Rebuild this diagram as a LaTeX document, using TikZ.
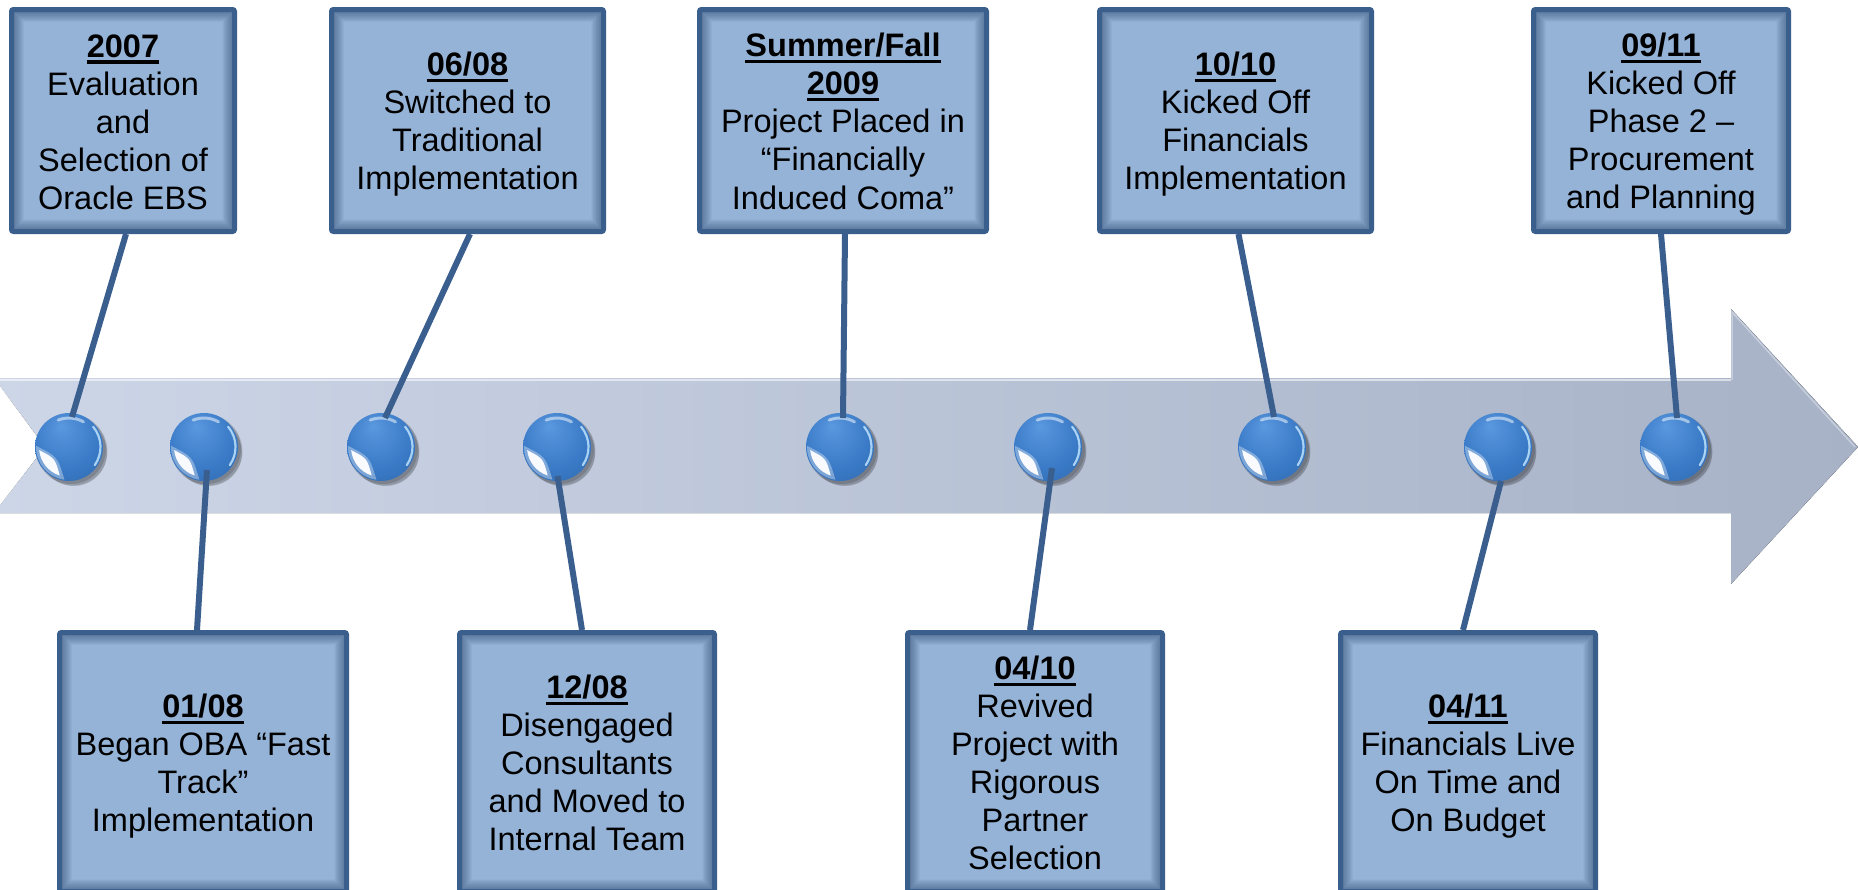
\documentclass[tikz,border=0pt]{standalone}
\usepackage{fontspec}
\setmainfont{Liberation Sans}
\usetikzlibrary{calc}

\definecolor{boxfill}{HTML}{95B3D7}
\definecolor{boxline}{HTML}{3A5F8C}
\definecolor{boxglow}{HTML}{2D4A70}
\definecolor{linkc}{HTML}{3A5F8E}
\definecolor{bandl}{HTML}{CDD6E7}
\definecolor{bandr}{HTML}{A7B2C7}
\definecolor{ballhi}{HTML}{5A98DF}
\definecolor{ballmid}{HTML}{3A7AC6}
\definecolor{balldk}{HTML}{2D66AC}
\definecolor{ballrim}{HTML}{B5DCFA}

% line struts so every line box is 38pt tall (31.5 above, 6.5 below)
\newcommand\tlstrut{\rule[-6.5pt]{0pt}{38pt}}
% bold, underlined date heading of each milestone
\newsavebox\tldatebox
\newcommand\tldate[1]{\sbox\tldatebox{\bfseries #1}\leavevmode\tlstrut\rlap{\rule[-6.5pt]{\wd\tldatebox}{3.2pt}}\usebox\tldatebox}

% glossy milestone sphere
\pgfdeclareradialshading{tlball}{\pgfpoint{-6bp}{16bp}}{%
  color(0bp)=(ballhi); color(24bp)=(ballmid); color(44bp)=(balldk); color(50bp)=(balldk)}

\tikzset{
  tlbox/.style={draw=boxline, line width=5pt, fill=boxfill, rounded corners=2pt,
    inner sep=0pt, align=center, text=black,
    font=\fontsize{32.5}{38}\selectfont,
    path picture={
      \foreach \w in {3,6,...,24}{
        \draw[line width=\w pt, draw=boxglow, opacity=0.095]
          (path picture bounding box.south west) rectangle (path picture bounding box.north east);
      }}},
  topbox/.style={tlbox, minimum height=222pt},
  botbox/.style={tlbox, minimum height=259pt},
  ballshadow/.style={fill=black, opacity=0.14},
  ball/.style={circle, minimum size=68pt, inner sep=0pt, shading=tlball,
    path picture={
      \fill[white, opacity=0.35]
        ($(path picture bounding box.center)+(178:33pt)$)
        arc[start angle=178, end angle=262, radius=33pt]
        .. controls ($(path picture bounding box.center)+(220:15pt)$) ..
        ($(path picture bounding box.center)+(178:33pt)$) -- cycle;
      \fill[white, opacity=0.95]
        ($(path picture bounding box.center)+(186:30pt)$)
        arc[start angle=186, end angle=252, radius=30pt]
        .. controls ($(path picture bounding box.center)+(219:18pt)$) ..
        ($(path picture bounding box.center)+(186:30pt)$) -- cycle;
      \draw[white, opacity=0.5, line width=3pt, line cap=round]
        ($(path picture bounding box.center)+(60:29pt)$)
        arc[start angle=60, end angle=112, radius=29pt];
      \draw[ballrim, opacity=0.9, line width=2.2pt, line cap=round]
        ($(path picture bounding box.center)+(-35:31.5pt)$)
        arc[start angle=-35, end angle=40, radius=31.5pt];
    }},
  link/.style={draw=linkc, line width=6pt},
}

\begin{document}
\begin{tikzpicture}[x=1pt, y=-1pt]
\useasboundingbox (0,0) rectangle (1858,889);
\clip (0,0) rectangle (1858,889);
\fill[white] (0,0) rectangle (1858,889);

% the timeline arrow with its notched tail
\fill[left color=bandl, right color=bandr]
  (-6,378) -- (1731,378) -- (1731,309) -- (1858,447) -- (1731,584)
  -- (1731,513) -- (-6,513) -- (45,447) -- cycle;
\draw[white, opacity=0.55, line width=2pt] (0,379.5) -- (1731,379.5);
\draw[white, opacity=0.75, line width=2.5pt] (-6,380) -- (43,447) -- (-6,511);
\draw[white, opacity=0.35, line width=1.5pt] (1732,380) -- (1732,312) -- (1855,447);

% milestone spheres
\foreach \n/\x in {1/69, 2/204, 3/381, 4/557, 5/840, 6/1048, 7/1272, 8/1498, 9/1674}{
  \fill[ballshadow] (\x+2,449) circle[radius=35];
  \fill[ballshadow] (\x+4,451) circle[radius=34.5];
  \fill[ballshadow] (\x+5,453) circle[radius=33];
  \node[ball] (b\n) at (\x,447) {};
}

% milestones above the arrow
\node[topbox, minimum width=223pt] (t1) at (123,120.5)
  {\tldate{2007}\\Evaluation\\and\\Selection of\\Oracle EBS\tlstrut};
\node[topbox, minimum width=272pt] (t2) at (467.5,120.5)
  {\tldate{06/08}\\Switched to\\Traditional\\Implementation\tlstrut};
\node[topbox, minimum width=287pt] (t3) at (843,120.5)
  {\tldate{Summer/Fall}\\\tldate{2009}\\Project Placed in\\“Financially\\Induced Coma”\tlstrut};
\node[topbox, minimum width=272pt] (t4) at (1235.5,120.5)
  {\tldate{10/10}\\Kicked Off\\Financials\\Implementation\tlstrut};
\node[topbox, minimum width=255pt] (t5) at (1661,120.5)
  {\tldate{09/11}\\Kicked Off\\Phase 2 –\\Procurement\\and Planning\tlstrut};

% milestones below the arrow
\node[botbox, minimum width=287pt] (u1) at (203,762)
  {\tldate{01/08}\\Began OBA “Fast\\Track”\\Implementation\tlstrut};
\node[botbox, minimum width=255pt] (u2) at (587,762)
  {\tldate{12/08}\\Disengaged\\Consultants\\and Moved to\\Internal Team\tlstrut};
\node[botbox, minimum width=255pt] (u3) at (1035,762)
  {\tldate{04/10}\\Revived\\Project with\\Rigorous\\Partner\\Selection\tlstrut};
\node[botbox, minimum width=255pt] (u4) at (1468,762)
  {\tldate{04/11}\\Financials Live\\On Time and\\On Budget\tlstrut};

% leader lines from each box to its sphere
\draw[link] ($(t1.south)+(3,0)$) -- ($(b1)+(3,-30)$);
\draw[link] ($(b2)+(3,23)$) -- ($(u1.north)+(-6,0)$);
\draw[link] ($(t2.south)+(2.5,0)$) -- ($(b3)+(4,-29)$);
\draw[link] ($(b4)+(0.5,29)$) -- ($(u2.north)+(-5,0)$);
\draw[link] ($(t3.south)+(2,0)$) -- ($(b5)+(3,-29)$);
\draw[link] ($(b6)+(4,21)$) -- ($(u3.north)+(-5,0)$);
\draw[link] ($(t4.south)+(3,0)$) -- ($(b7)+(2,-30)$);
\draw[link] ($(b8)+(3,34)$) -- ($(u4.north)+(-5,0)$);
\draw[link] ($(t5.south)+(0,0)$) -- ($(b9)+(3,-29)$);
\end{tikzpicture}
\end{document}
